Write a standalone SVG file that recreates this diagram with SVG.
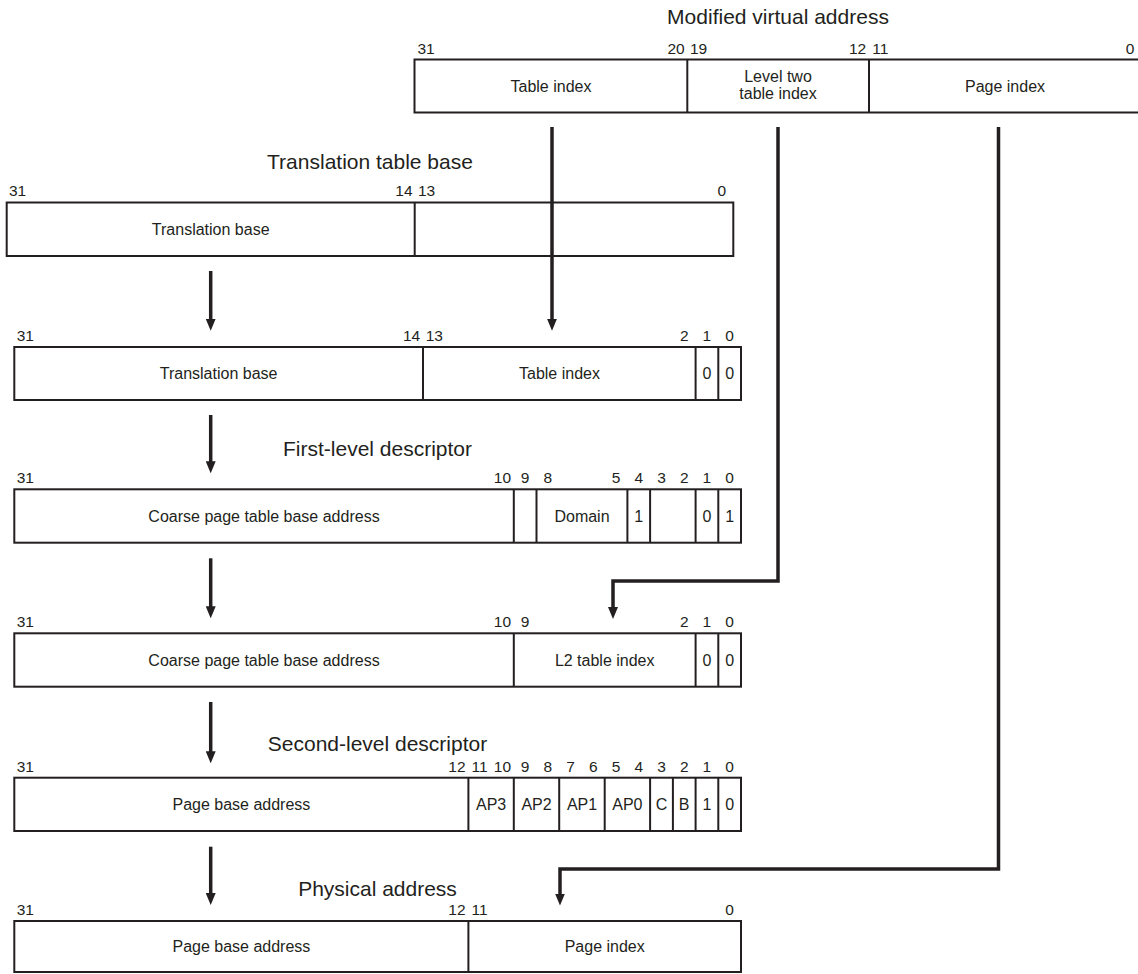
<svg xmlns="http://www.w3.org/2000/svg" width="1138" height="974" viewBox="0 0 1138 974">
<style>
.bg{fill:#ffffff}
.box{fill:none;stroke:#231f20;stroke-width:2}
.div{stroke:#231f20;stroke-width:2}
.t{font-family:"Liberation Sans",Arial,sans-serif;fill:#231f20;text-anchor:middle}
.title{font-size:21px}
.cell{font-size:16px}
.bit{font-size:15.5px}
.conn{fill:none;stroke:#231f20;stroke-width:3.5;stroke-linejoin:miter}
</style>
<defs>
<marker id="ah" viewBox="0 0 12 10" refX="3" refY="5" markerWidth="12" markerHeight="10" markerUnits="userSpaceOnUse" orient="auto">
<path d="M0,0 L12,5 L0,10 Z" fill="#231f20"/>
</marker>
</defs>
<rect class="bg" x="0" y="0" width="1138" height="974"/>

<g id="mva">
<text class="t title" x="778" y="24">Modified virtual address</text>
<text class="t bit" x="426" y="53.5">31</text>
<text class="t bit" x="676" y="53.5">20</text>
<text class="t bit" x="698.5" y="53.5">19</text>
<text class="t bit" x="857.6" y="53.5">12</text>
<text class="t bit" x="880.3" y="53.5">11</text>
<text class="t bit" x="1130" y="53.5">0</text>
<path class="box" d="M1142,59.5 H414.5 V112.5 H1142"/>
<line class="div" x1="687.3" y1="59.5" x2="687.3" y2="112.5"/>
<line class="div" x1="869" y1="59.5" x2="869" y2="112.5"/>
<text class="t cell" x="551" y="91.5">Table index</text>
<text class="t cell" x="778" y="82">Level two</text>
<text class="t cell" x="778" y="99">table index</text>
<text class="t cell" x="1005" y="91.5">Page index</text>
</g>

<g id="ttb">
<text class="t title" x="370" y="169">Translation table base</text>
<text class="t bit" x="17.6" y="196">31</text>
<text class="t bit" x="403.9" y="196">14</text>
<text class="t bit" x="426.6" y="196">13</text>
<text class="t bit" x="721.9" y="196">0</text>
<rect class="box" x="6.7" y="202.5" width="726.6" height="53.5"/>
<line class="div" x1="414.7" y1="202.5" x2="414.7" y2="256"/>
<text class="t cell" x="210.7" y="234.5">Translation base</text>
</g>

<g id="ttaddr">
<text class="t bit" x="25.3" y="340.5">31</text>
<text class="t bit" x="411.6" y="340.5">14</text>
<text class="t bit" x="434.3" y="340.5">13</text>
<text class="t bit" x="684.2" y="340.5">2</text>
<text class="t bit" x="706.9" y="340.5">1</text>
<text class="t bit" x="729.6" y="340.5">0</text>
<rect class="box" x="14.3" y="347" width="726.7" height="53"/>
<line class="div" x1="423" y1="347" x2="423" y2="400"/>
<line class="div" x1="695.6" y1="347" x2="695.6" y2="400"/>
<line class="div" x1="718.3" y1="347" x2="718.3" y2="400"/>
<text class="t cell" x="218.6" y="379">Translation base</text>
<text class="t cell" x="559.5" y="379">Table index</text>
<text class="t cell" x="707" y="379">0</text>
<text class="t cell" x="729.6" y="379">0</text>
</g>

<g id="fld">
<text class="t title" x="377.5" y="456">First-level descriptor</text>
<text class="t bit" x="25.3" y="483">31</text>
<text class="t bit" x="502.4" y="483">10</text>
<text class="t bit" x="525.1" y="483">9</text>
<text class="t bit" x="547.8" y="483">8</text>
<text class="t bit" x="616" y="483">5</text>
<text class="t bit" x="638.8" y="483">4</text>
<text class="t bit" x="661.5" y="483">3</text>
<text class="t bit" x="684.2" y="483">2</text>
<text class="t bit" x="706.9" y="483">1</text>
<text class="t bit" x="729.6" y="483">0</text>
<rect class="box" x="14.3" y="489.3" width="726.7" height="53.4"/>
<line class="div" x1="513.8" y1="489.3" x2="513.8" y2="542.7"/>
<line class="div" x1="536.5" y1="489.3" x2="536.5" y2="542.7"/>
<line class="div" x1="627.4" y1="489.3" x2="627.4" y2="542.7"/>
<line class="div" x1="650.1" y1="489.3" x2="650.1" y2="542.7"/>
<line class="div" x1="695.6" y1="489.3" x2="695.6" y2="542.7"/>
<line class="div" x1="718.3" y1="489.3" x2="718.3" y2="542.7"/>
<text class="t cell" x="264" y="521.5">Coarse page table base address</text>
<text class="t cell" x="582" y="521.5">Domain</text>
<text class="t cell" x="638.8" y="521.5">1</text>
<text class="t cell" x="707" y="521.5">0</text>
<text class="t cell" x="729.6" y="521.5">1</text>
</g>

<g id="l2addr">
<text class="t bit" x="25.3" y="627">31</text>
<text class="t bit" x="502.4" y="627">10</text>
<text class="t bit" x="525.1" y="627">9</text>
<text class="t bit" x="684.2" y="627">2</text>
<text class="t bit" x="706.9" y="627">1</text>
<text class="t bit" x="729.6" y="627">0</text>
<rect class="box" x="14.3" y="633.3" width="726.7" height="53.4"/>
<line class="div" x1="513.8" y1="633.3" x2="513.8" y2="686.7"/>
<line class="div" x1="695.6" y1="633.3" x2="695.6" y2="686.7"/>
<line class="div" x1="718.3" y1="633.3" x2="718.3" y2="686.7"/>
<text class="t cell" x="264" y="665.5">Coarse page table base address</text>
<text class="t cell" x="604.7" y="665.5">L2 table index</text>
<text class="t cell" x="707" y="665.5">0</text>
<text class="t cell" x="729.6" y="665.5">0</text>
</g>

<g id="sld">
<text class="t title" x="377.5" y="751">Second-level descriptor</text>
<text class="t bit" x="25.3" y="771.5">31</text>
<text class="t bit" x="456.9" y="771.5">12</text>
<text class="t bit" x="479.6" y="771.5">11</text>
<text class="t bit" x="502.4" y="771.5">10</text>
<text class="t bit" x="525.1" y="771.5">9</text>
<text class="t bit" x="547.8" y="771.5">8</text>
<text class="t bit" x="570.6" y="771.5">7</text>
<text class="t bit" x="593.3" y="771.5">6</text>
<text class="t bit" x="616" y="771.5">5</text>
<text class="t bit" x="638.8" y="771.5">4</text>
<text class="t bit" x="661.5" y="771.5">3</text>
<text class="t bit" x="684.2" y="771.5">2</text>
<text class="t bit" x="706.9" y="771.5">1</text>
<text class="t bit" x="729.6" y="771.5">0</text>
<rect class="box" x="14.3" y="777.7" width="726.7" height="53.3"/>
<line class="div" x1="468.4" y1="777.7" x2="468.4" y2="831"/>
<line class="div" x1="513.8" y1="777.7" x2="513.8" y2="831"/>
<line class="div" x1="559.2" y1="777.7" x2="559.2" y2="831"/>
<line class="div" x1="604.7" y1="777.7" x2="604.7" y2="831"/>
<line class="div" x1="650.1" y1="777.7" x2="650.1" y2="831"/>
<line class="div" x1="672.9" y1="777.7" x2="672.9" y2="831"/>
<line class="div" x1="695.6" y1="777.7" x2="695.6" y2="831"/>
<line class="div" x1="718.3" y1="777.7" x2="718.3" y2="831"/>
<text class="t cell" x="241.4" y="810">Page base address</text>
<text class="t cell" x="491.1" y="810">AP3</text>
<text class="t cell" x="536.5" y="810">AP2</text>
<text class="t cell" x="582" y="810">AP1</text>
<text class="t cell" x="627.4" y="810">AP0</text>
<text class="t cell" x="661.5" y="810">C</text>
<text class="t cell" x="684.2" y="810">B</text>
<text class="t cell" x="707" y="810">1</text>
<text class="t cell" x="729.6" y="810">0</text>
</g>

<g id="pa">
<text class="t title" x="377.5" y="896">Physical address</text>
<text class="t bit" x="25.3" y="914.5">31</text>
<text class="t bit" x="456.9" y="914.5">12</text>
<text class="t bit" x="479.6" y="914.5">11</text>
<text class="t bit" x="729.6" y="914.5">0</text>
<rect class="box" x="14.3" y="921" width="726.7" height="51"/>
<line class="div" x1="468.4" y1="921" x2="468.4" y2="972"/>
<text class="t cell" x="241.4" y="952">Page base address</text>
<text class="t cell" x="604.7" y="952">Page index</text>
</g>

<g id="connectors">
<path class="conn" d="M210.7,271 V321.7" marker-end="url(#ah)"/>
<path class="conn" d="M210.7,415 V464.3" marker-end="url(#ah)"/>
<path class="conn" d="M210.7,558.3 V609.3" marker-end="url(#ah)"/>
<path class="conn" d="M210.7,702 V754.3" marker-end="url(#ah)"/>
<path class="conn" d="M210.7,846.7 V896" marker-end="url(#ah)"/>
<path class="conn" d="M552,127 V321.7" marker-end="url(#ah)"/>
<path class="conn" d="M778,127 V581 H613 V610" marker-end="url(#ah)"/>
<path class="conn" d="M998.5,127 V869 H560 V896.5" marker-end="url(#ah)"/>
</g>
</svg>
